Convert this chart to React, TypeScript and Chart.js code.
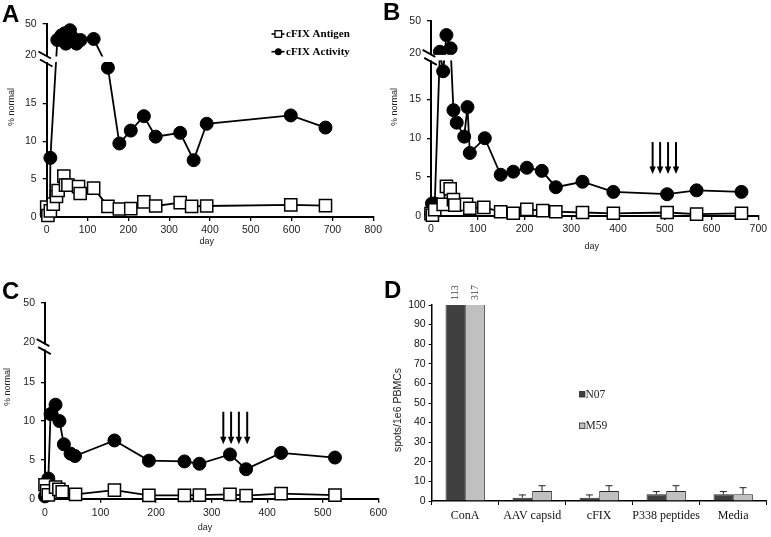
import React, { useEffect, useRef } from 'react';
import { Chart, registerables } from 'chart.js';

Chart.register(...registerables);

const SANS = "'Liberation Sans', Arial, sans-serif";
const SERIF = "'Liberation Serif', 'Times New Roman', serif";

// ---------- Panel A ----------
const aActivityDays = [0, 3, 8, 9, 26, 36, 44, 47, 57, 63, 73, 83, 115, 150, 178, 206, 238, 267, 327, 360, 392, 598, 683];
const aActivityValues = [0.3, 1.0, 0.4, 7.8, 34.5, 39, 41, 31, 44, 37, 31, 34.5, 35.5, 19.7, 9.7, 11.4, 13.3, 10.6, 11.1, 7.5, 12.3, 13.4, 11.8];
const aAntigenDays = [0, 3, 9, 16, 24, 28, 42, 46, 52, 78, 82, 115, 150, 178, 206, 238, 267, 327, 355, 392, 598, 683];
const aAntigenValues = [1.3, 0.2, 0.8, 1.7, 2.7, 3.5, 5.4, 4.2, 4.2, 4.0, 3.1, 3.8, 1.4, 1.05, 1.1, 2.0, 1.45, 1.9, 1.4, 1.45, 1.6, 1.5];

// ---------- Panel B ----------
const bActivityDays = [0, 2, 8, 19, 26, 33, 42, 48, 55, 71, 78, 83, 115, 149, 176, 205, 237, 267, 324, 390, 505, 568, 664];
const bActivityValues = [0.3, 1.6, 1.6, 21.5, 18.6, 36.8, 24.6, 13.6, 12.0, 10.2, 14.0, 8.1, 10.0, 5.3, 5.7, 6.2, 5.8, 3.7, 4.4, 3.1, 2.8, 3.3, 3.1];
const bAntigenDays = [0, 3, 8, 26, 33, 41, 48, 51, 76, 83, 113, 149, 176, 205, 239, 267, 324, 390, 505, 568, 664];
const bAntigenValues = [0.3, 0.1, 0.8, 1.5, 3.8, 3.5, 2.1, 1.4, 1.5, 1.0, 1.1, 0.55, 0.35, 0.85, 0.7, 0.55, 0.45, 0.35, 0.45, 0.25, 0.35];
const bArrowDays = [474, 490, 507, 524];
const bArrowRange = [9.5, 5.4];

// ---------- Panel C ----------
const cActivityDays = [0, 3, 6, 10, 19, 26, 34, 46, 54, 125, 187, 251, 278, 333, 362, 425, 522];
const cActivityValues = [0.3, 1.2, 2.6, 10.9, 12.1, 10.0, 7.0, 5.8, 5.5, 7.5, 4.9, 4.8, 4.5, 5.7, 3.8, 5.9, 5.3];
const cAntigenDays = [0, 3, 6, 19, 25, 31, 55, 125, 187, 251, 278, 333, 362, 425, 522];
const cAntigenValues = [1.8, 1.0, 0.5, 1.5, 1.2, 0.9, 0.55, 1.1, 0.43, 0.43, 0.47, 0.56, 0.4, 0.65, 0.47];
const cArrowDays = [321, 335, 349, 364];
const cArrowRange = [11.2, 7.0];

// ---------- shared tick labels ----------
const yLowerTicks = [0, 5, 10, 15];
const yBreakLabels = ['20', '50'];
const legendLabels = ['cFIX Antigen', 'cFIX Activity'];
const xTitle = 'day';
const yTitle = '% normal';

// ---------- Panel D ----------
const dCategories = ['ConA', 'AAV capsid', 'cFIX', 'P338 peptides', 'Media'];
const dSeriesNames = ['N07', 'M59'];
const dN07 = [113, 1.7, 1.7, 3.4, 3.4];
const dM59 = [317, 5.1, 5.1, 5.1, 3.4];
const dN07Err = [0, 1.4, 1.4, 1.4, 1.4];
const dM59Err = [0, 2.7, 2.7, 2.7, 3.4];
const dYTitle = 'spots/1e6 PBMCs';

type Geo = {
  left: number; top: number; width: number; height: number;
  padTop: number; padRight: number; yWidth: number; xHeight: number;
  d20: number; d50: number; xMax: number; xTickPad: number;
  yTitlePos: [number, number]; xTitlePos: [number, number];
  legend?: boolean;
};

const geoA: Geo = { left: 0, top: 0, width: 385, height: 265, padTop: 24, padRight: 8.3, yWidth: 46.7, xHeight: 48, d20: 21.37, d50: 25.46, xMax: 800, xTickPad: 3, yTitlePos: [11.7, 107], xTitlePos: [206.7, 241.7], legend: true };
const geoB: Geo = { left: 385, top: 0, width: 386, height: 265, padTop: 20.7, padRight: 12.7, yWidth: 46, xHeight: 49, d20: 20.9, d50: 25.1, xMax: 700, xTickPad: 3, yTitlePos: [10, 107], xTitlePos: [206.7, 246.7] };
const geoC: Geo = { left: 0, top: 270, width: 392, height: 267, padTop: 33, padRight: 13.7, yWidth: 45, xHeight: 38.3, d20: 20.1, d50: 25.2, xMax: 600, xTickPad: 4.5, yTitlePos: [7.5, 117], xTitlePos: [205, 258] };

const toDisp = (v: number, d20: number, d50: number) => (v <= 20 ? v : d20 + ((v - 20) / 30) * (d50 - d20));

type Arrows = { days: number[]; range: number[] } | null;

function LinePanel(props: { geo: Geo; actDays: number[]; actVals: number[]; antDays: number[]; antVals: number[]; arrows: Arrows }) {
  const ref = useRef<HTMLCanvasElement>(null);
  const { geo, actDays, actVals, antDays, antVals, arrows } = props;
  useEffect(() => {
    const canvas = ref.current!;
    const disp = (v: number) => toDisp(v, geo.d20, geo.d50);
    const plugin = {
      id: 'panelExtras',
      afterDatasetsDraw(chart: any) {
        const { ctx, chartArea, scales } = chart;
        const ys = scales.y;
        const xs = scales.x;
        const yL = ys.getPixelForValue(geo.d20);
        ctx.save();
        // break band
        ctx.fillStyle = '#fff';
        ctx.fillRect(chartArea.left - 3, yL + 1.5, chartArea.right - chartArea.left + 3, 5.5);
        // slashes
        ctx.strokeStyle = '#000';
        ctx.lineWidth = 1.8;
        const ax = chartArea.left;
        [[ax - 2, yL], [ax - 0.5, yL + 8]].forEach(([cx, cy]) => {
          ctx.beginPath();
          ctx.moveTo(cx - 6.3, cy - 3.5);
          ctx.lineTo(cx + 6.3, cy + 3.5);
          ctx.stroke();
        });
        // arrows
        if (arrows) {
          ctx.fillStyle = '#000';
          arrows.days.forEach((d) => {
            const x = xs.getPixelForValue(d);
            const y1 = ys.getPixelForValue(arrows.range[0]);
            const y2 = ys.getPixelForValue(arrows.range[1]);
            ctx.lineWidth = 2;
            ctx.beginPath();
            ctx.moveTo(x, y1);
            ctx.lineTo(x, y2 - 6);
            ctx.stroke();
            ctx.beginPath();
            ctx.moveTo(x - 3.2, y2 - 7.5);
            ctx.lineTo(x + 3.2, y2 - 7.5);
            ctx.lineTo(x, y2);
            ctx.closePath();
            ctx.fill();
          });
        }
        // titles
        ctx.fillStyle = '#222';
        ctx.font = `9px ${SANS}`;
        ctx.textAlign = 'center';
        ctx.textBaseline = 'middle';
        ctx.fillText(xTitle, geo.xTitlePos[0], geo.xTitlePos[1]);
        ctx.save();
        ctx.translate(geo.yTitlePos[0], geo.yTitlePos[1]);
        ctx.rotate(-Math.PI / 2);
        ctx.fillText(yTitle, 0, 0);
        ctx.restore();
        // legend
        if (geo.legend) {
          const rows = [34, 51.7];
          rows.forEach((ry, i) => {
            ctx.strokeStyle = '#000';
            ctx.lineWidth = 1.6;
            ctx.beginPath();
            ctx.moveTo(271.5, ry);
            ctx.lineTo(284.5, ry);
            ctx.stroke();
            if (i === 0) {
              ctx.fillStyle = '#fff';
              ctx.fillRect(275, ry - 3.3, 6.6, 6.6);
              ctx.lineWidth = 1.3;
              ctx.strokeRect(275, ry - 3.3, 6.6, 6.6);
            } else {
              ctx.fillStyle = '#000';
              ctx.beginPath();
              ctx.arc(278.3, ry, 3.5, 0, Math.PI * 2);
              ctx.fill();
            }
            ctx.fillStyle = '#000';
            ctx.font = `bold 11px ${SERIF}`;
            ctx.textAlign = 'left';
            ctx.textBaseline = 'middle';
            ctx.fillText(legendLabels[i], 286, ry + 0.5);
          });
        }
        ctx.restore();
      },
    };
    const chart = new Chart(canvas, {
      type: 'scatter',
      data: {
        datasets: [
          {
            label: legendLabels[0],
            data: antDays.map((d, i) => ({ x: d, y: disp(antVals[i]) })),
            showLine: true,
            borderColor: '#000',
            borderWidth: 1.8,
            pointStyle: 'rect',
            pointRadius: 8.6,
            pointBackgroundColor: '#fff',
            pointBorderColor: '#000',
            pointBorderWidth: 1.5,
            clip: false,
            order: 0,
          } as any,
          {
            label: legendLabels[1],
            data: actDays.map((d, i) => ({ x: d, y: disp(actVals[i]) })),
            showLine: true,
            borderColor: '#000',
            borderWidth: 1.8,
            pointStyle: 'circle',
            pointRadius: 6.5,
            pointBackgroundColor: '#000',
            pointBorderColor: '#000',
            pointBorderWidth: 1,
            clip: false,
            order: 1,
          } as any,
        ],
      },
      options: {
        animation: false,
        responsive: false,
        devicePixelRatio: 1,
        layout: { padding: { left: 0, top: geo.padTop, right: geo.padRight, bottom: 0 } },
        plugins: { legend: { display: false }, tooltip: { enabled: false } },
        scales: {
          x: {
            type: 'linear',
            min: 0,
            max: geo.xMax,
            ticks: { stepSize: 100, autoSkip: false, maxRotation: 0, font: { family: SANS, size: 10.5 }, color: '#222', padding: geo.xTickPad },
            grid: { drawOnChartArea: false, tickLength: 4, color: '#000', lineWidth: 1.3 },
            border: { color: '#000', width: 2 },
            afterFit: (s: any) => { s.height = geo.xHeight; },
          },
          y: {
            type: 'linear',
            min: 0,
            max: geo.d50,
            afterBuildTicks: (s: any) => {
              s.ticks = [...yLowerTicks, geo.d20, geo.d50].map((v) => ({ value: v }));
            },
            ticks: {
              autoSkip: false,
              font: { family: SANS, size: 10.5 },
              color: '#222',
              padding: 6,
              callback: (v: any) => (v === geo.d20 ? yBreakLabels[0] : v === geo.d50 ? yBreakLabels[1] : String(v)),
            },
            grid: {
              drawOnChartArea: false,
              tickLength: 4,
              lineWidth: 1.3,
              color: (c: any) => (c.tick && c.tick.value === geo.d20 ? 'rgba(0,0,0,0)' : '#000'),
            },
            border: { color: '#000', width: 2 },
            afterFit: (s: any) => { s.width = geo.yWidth; },
          },
        },
      } as any,
      plugins: [plugin],
    });
    return () => chart.destroy();
  }, []);
  return (
    <canvas
      ref={ref}
      width={geo.width}
      height={geo.height}
      style={{ position: 'absolute', left: geo.left, top: geo.top, width: geo.width, height: geo.height }}
    />
  );
}

function BarPanel() {
  const ref = useRef<HTMLCanvasElement>(null);
  useEffect(() => {
    const canvas = ref.current!;
    const errs = [dN07Err, dM59Err];
    const plugin = {
      id: 'barExtras',
      afterDatasetsDraw(chart: any) {
        const { ctx, chartArea, scales } = chart;
        const ys = scales.y;
        ctx.save();
        chart.data.datasets.forEach((ds: any, di: number) => {
          const meta = chart.getDatasetMeta(di);
          meta.data.forEach((el: any, j: number) => {
            const v = ds.data[j];
            const e = errs[di][j];
            if (e > 0) {
              const yTop = ys.getPixelForValue(v + e);
              ctx.strokeStyle = '#222';
              ctx.lineWidth = 1;
              ctx.beginPath();
              ctx.moveTo(el.x, el.y);
              ctx.lineTo(el.x, yTop);
              ctx.moveTo(el.x - 3.5, yTop);
              ctx.lineTo(el.x + 3.5, yTop);
              ctx.stroke();
            }
            if (v > 100) {
              ctx.save();
              ctx.translate(el.x, chartArea.top - 5);
              ctx.rotate(-Math.PI / 2);
              ctx.fillStyle = '#444';
              ctx.font = `10px ${SERIF}`;
              ctx.textAlign = 'left';
              ctx.textBaseline = 'middle';
              ctx.fillText(String(v), 0, 0);
              ctx.restore();
            }
          });
        });
        // legend
        const rows = [124.3, 155.7];
        const fills = ['#404040', '#c0c0c0'];
        rows.forEach((ry, i) => {
          ctx.fillStyle = fills[i];
          ctx.fillRect(194.5, ry - 2.7, 5.4, 5.4);
          ctx.strokeStyle = '#222';
          ctx.lineWidth = 0.8;
          ctx.strokeRect(194.5, ry - 2.7, 5.4, 5.4);
          ctx.fillStyle = '#222';
          ctx.font = `11.5px ${SERIF}`;
          ctx.textAlign = 'left';
          ctx.textBaseline = 'middle';
          ctx.fillText(dSeriesNames[i], 200.5, ry + 0.5);
        });
        // y title
        ctx.save();
        ctx.translate(13, 140);
        ctx.rotate(-Math.PI / 2);
        ctx.fillStyle = '#222';
        ctx.font = `10.5px ${SANS}`;
        ctx.textAlign = 'center';
        ctx.textBaseline = 'middle';
        ctx.fillText(dYTitle, 0, 0);
        ctx.restore();
        ctx.restore();
      },
    };
    const chart = new Chart(canvas, {
      type: 'bar',
      data: {
        labels: dCategories,
        datasets: [
          { label: dSeriesNames[0], data: dN07, backgroundColor: '#404040', borderColor: '#2a2a2a', borderWidth: 1, barPercentage: 1, categoryPercentage: 0.587, clip: 0 } as any,
          { label: dSeriesNames[1], data: dM59, backgroundColor: '#c0c0c0', borderColor: '#2a2a2a', borderWidth: 1, barPercentage: 1, categoryPercentage: 0.587, clip: 0 } as any,
        ],
      },
      options: {
        animation: false,
        responsive: false,
        devicePixelRatio: 1,
        layout: { padding: { left: 0, top: 35, right: 4.3, bottom: 0 } },
        plugins: { legend: { display: false }, tooltip: { enabled: false } },
        scales: {
          x: {
            ticks: { font: { family: SERIF, size: 12 }, color: '#111', padding: 3.3, maxRotation: 0, autoSkip: false },
            grid: { offset: true, drawOnChartArea: false, tickLength: 4, color: '#000', lineWidth: 1 },
            border: { color: '#000', width: 1.5 },
            afterFit: (s: any) => { s.height = 36; },
          },
          y: {
            min: 0,
            max: 100,
            ticks: { stepSize: 10, font: { family: SANS, size: 10.5 }, color: '#111', padding: 3 },
            grid: { drawOnChartArea: false, tickLength: 3, color: '#000', lineWidth: 1 },
            border: { color: '#000', width: 1.5 },
            afterFit: (s: any) => { s.width = 46.7; },
          },
        },
      } as any,
      plugins: [plugin],
    });
    return () => chart.destroy();
  }, []);
  return (
    <canvas
      ref={ref}
      width={386}
      height={267}
      style={{ position: 'absolute', left: 385, top: 270, width: 386, height: 267 }}
    />
  );
}

const letterStyle = (left: number, top: number): React.CSSProperties => ({
  position: 'absolute',
  left,
  top,
  font: `bold 24px ${SANS}`,
  lineHeight: '24px',
  color: '#000',
  margin: 0,
});

export default function App() {
  return (
    <div style={{ position: 'absolute', left: 0, top: 0, width: 771, height: 537, background: '#fff', overflow: 'hidden' }}>
      <LinePanel geo={geoA} actDays={aActivityDays} actVals={aActivityValues} antDays={aAntigenDays} antVals={aAntigenValues} arrows={null} />
      <LinePanel geo={geoB} actDays={bActivityDays} actVals={bActivityValues} antDays={bAntigenDays} antVals={bAntigenValues} arrows={{ days: bArrowDays, range: bArrowRange }} />
      <LinePanel geo={geoC} actDays={cActivityDays} actVals={cActivityValues} antDays={cAntigenDays} antVals={cAntigenValues} arrows={{ days: cArrowDays, range: cArrowRange }} />
      <BarPanel />
      <div style={letterStyle(2, 2)}>A</div>
      <div style={letterStyle(383, 0)}>B</div>
      <div style={letterStyle(2, 279)}>C</div>
      <div style={letterStyle(384, 278)}>D</div>
    </div>
  );
}
